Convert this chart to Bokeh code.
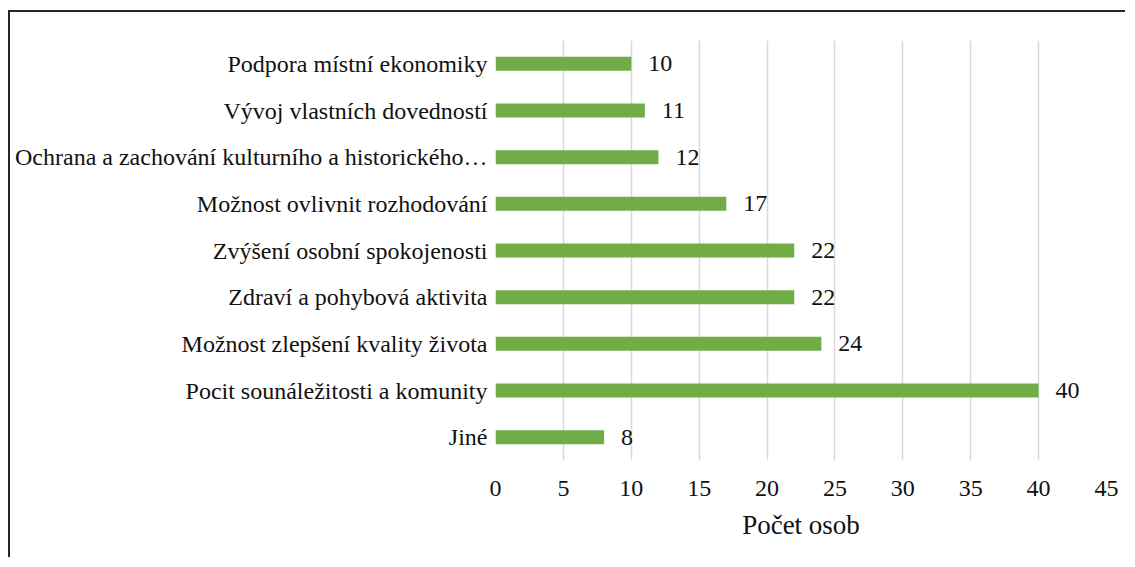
from bokeh.plotting import figure
from bokeh.models import ColumnDataSource, LabelSet, FactorRange, SingleIntervalTicker
from bokeh.embed import file_html
from bokeh.resources import INLINE
from bokeh.core.properties import value

categories = [
    "Podpora místní ekonomiky",
    "Vývoj vlastních dovedností",
    "Ochrana a zachování kulturního a historického…",
    "Možnost ovlivnit rozhodování",
    "Zvýšení osobní spokojenosti",
    "Zdraví a pohybová aktivita",
    "Možnost zlepšení kvality života",
    "Pocit sounáležitosti a komunity",
    "Jiné",
]
counts = [10, 11, 12, 17, 22, 22, 24, 40, 8]
x_title = "Počet osob"

FONT = "Liberation Serif"
TXT = "#111111"

cats_bottom_up = list(reversed(categories))
src = ColumnDataSource(dict(cat=categories, val=counts, lab=[str(v) for v in counts]))

p = figure(
    width=1117, height=547,
    y_range=FactorRange(*cats_bottom_up, range_padding=0),
    x_range=(0, 45),
    output_backend="svg", toolbar_location=None,
    min_border_left=485, min_border_right=21, min_border_top=28, min_border_bottom=99,
)
p.styles = {"margin-left": "8px", "margin-top": "10px",
            "border-top": "2px solid #262626", "border-left": "2px solid #262626"}
p.outline_line_color = None
p.y_range.factor_padding = 0

p.hbar(y="cat", right="val", left=0, height=0.3, source=src, color="#70AD47", line_color=None)

labels = LabelSet(x="val", y="cat", text="lab", source=src, x_offset=17, y_offset=0,
                  text_baseline="middle", text_align="left",
                  text_font=value(FONT), text_font_size="24px", text_color=TXT)
p.add_layout(labels)

p.xaxis.ticker = SingleIntervalTicker(interval=5)
p.xaxis.axis_label = x_title
p.xaxis.axis_label_text_font = FONT
p.xaxis.axis_label_text_font_style = "normal"
p.xaxis.axis_label_text_font_size = "27px"
p.xaxis.axis_label_text_color = TXT
p.xaxis.axis_label_standoff = 11
p.xaxis.major_label_text_font = FONT
p.xaxis.major_label_text_font_size = "24px"
p.xaxis.major_label_text_color = TXT
p.xaxis.major_label_standoff = 14
p.xaxis.axis_line_color = None
p.xaxis.major_tick_line_color = None
p.xaxis.minor_tick_line_color = None

p.yaxis.major_label_text_font = FONT
p.yaxis.major_label_text_font_size = "24px"
p.yaxis.major_label_text_color = TXT
p.yaxis.major_tick_out = 0
p.yaxis.major_tick_in = 0
p.yaxis.major_label_standoff = 8
p.yaxis.axis_line_color = None
p.yaxis.major_tick_line_color = None
p.yaxis.minor_tick_line_color = None

p.ygrid.grid_line_color = None
p.xgrid.grid_line_color = "#d9d9d9"
p.xgrid.grid_line_width = 1.5

open("out.html", "w").write(file_html(p, INLINE))
